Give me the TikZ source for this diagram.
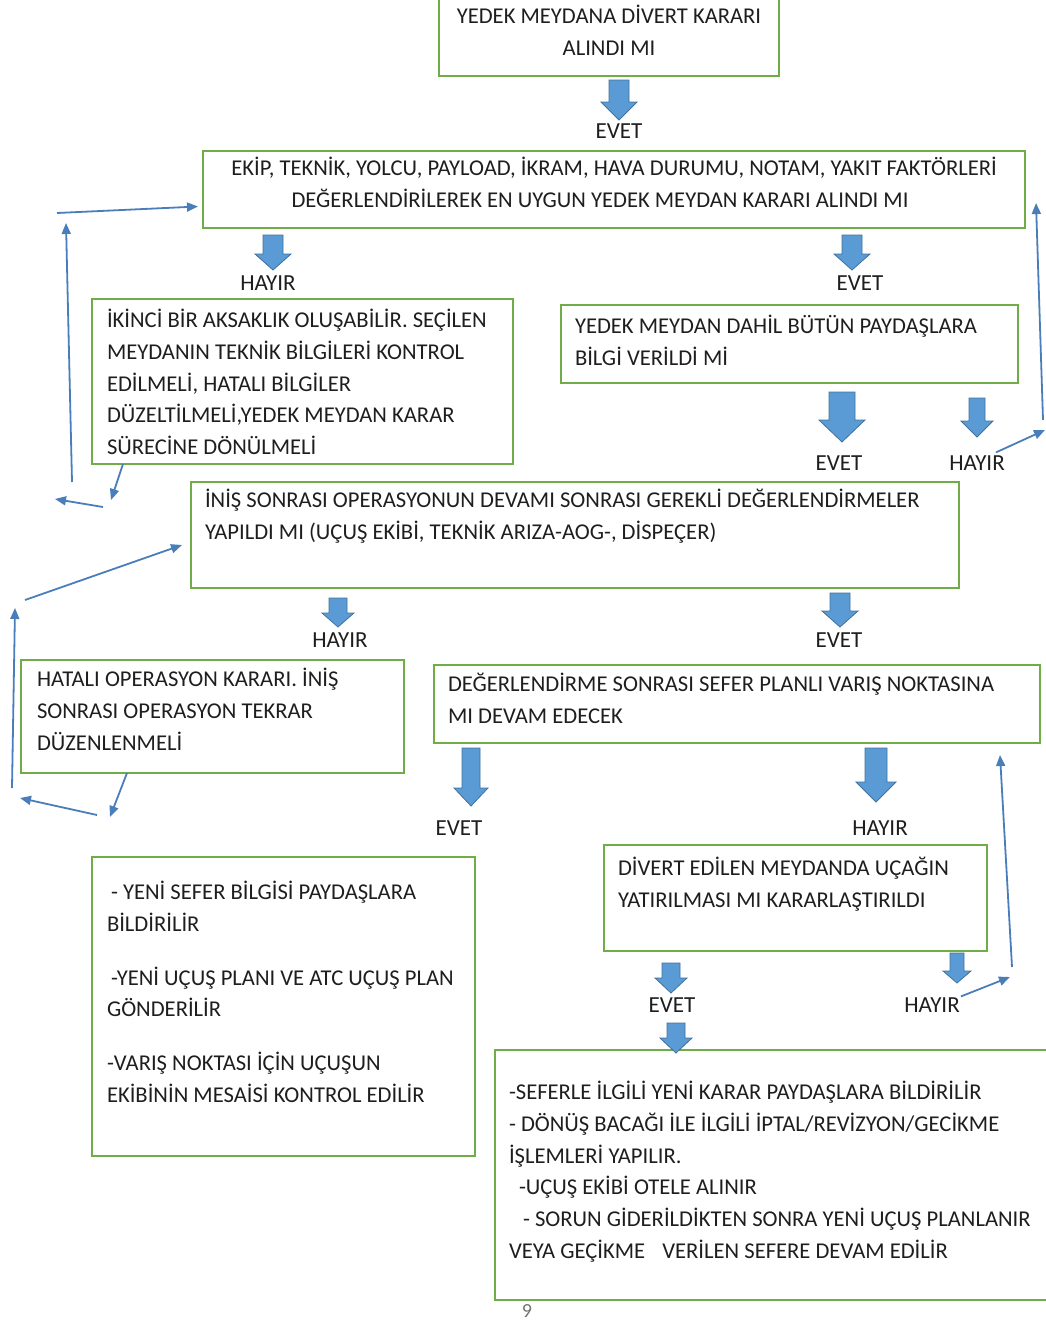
\documentclass[tikz,border=0pt]{standalone}
\usepackage{fontspec}
\setmainfont{Carlito}
\usetikzlibrary{arrows.meta}
\definecolor{boxgreen}{HTML}{70AD47}
\definecolor{blkfill}{HTML}{5B9BD5}
\definecolor{blkedge}{HTML}{41719C}
\definecolor{loopblue}{HTML}{4A7EBB}
\definecolor{txtgray}{HTML}{1E1E1E}
\newcommand{\boxbody}[5][\raggedright]{\parbox[t][#3pt][t]{#2pt}{#1\vspace*{#4pt}\strut #5}}
\newcommand{\dnarrow}[7]{%
  \fill[blkfill,draw=blkedge,line width=0.8pt]
    (#2-#5/2,#3) -- (#2+#5/2,#3) -- (#2+#5/2,#4-#7) -- (#2+#6/2,#4-#7)
    -- (#2,#4) -- (#2-#6/2,#4-#7) -- (#2-#5/2,#4-#7) -- cycle;
  \coordinate (#1) at (#2,#4);
}
\tikzset{
  boxnode/.style = {draw=boxgreen,line width=2pt,anchor=north west,inner ysep=0pt,outer sep=0pt,
                    font=\fontsize{22.6}{31.7}\selectfont,text=txtgray},
  anslbl/.style  = {font=\fontsize{23}{25}\selectfont,text=txtgray,inner sep=1pt},
  backarr/.style = {-{Triangle[length=11pt,width=9pt]},loopblue,line width=1.8pt}
}

\begin{document}
\begin{tikzpicture}[x=1pt,y=-1pt]
  \useasboundingbox (0,0) rectangle (1045,1322);

  \node[boxnode,inner xsep=10pt] (b1) at (439,-4)
    {\boxbody[\centering]{320}{80}{5.6}{YEDEK MEYDANA DİVERT KARARI\\ ALINDI MI}};
  \node[boxnode,inner xsep=12pt] (b2) at (203,151)
    {\boxbody[\centering]{798}{77}{2.6}{EKİP, TEKNİK, YOLCU, PAYLOAD, İKRAM, HAVA DURUMU, NOTAM, YAKIT FAKTÖRLERİ\hspace*{12pt}\\
     DEĞERLENDİRİLEREK EN UYGUN YEDEK MEYDAN KARARI ALINDI MI\hspace*{28pt}}};
  \node[boxnode,inner xsep=15pt] (b3) at (92,299)
    {\boxbody{391}{165}{6.6}{İKİNCİ BİR AKSAKLIK OLUŞABİLİR. SEÇİLEN\\ MEYDANIN TEKNİK BİLGİLERİ KONTROL\\
     EDİLMELİ, HATALI BİLGİLER\\ DÜZELTİLMELİ,YEDEK MEYDAN KARAR\\ SÜRECİNE DÖNÜLMELİ}};
  \node[boxnode,inner xsep=14pt] (b4) at (561,305)
    {\boxbody{429}{78}{6.6}{YEDEK MEYDAN DAHİL BÜTÜN PAYDAŞLARA\\ BİLGİ VERİLDİ Mİ}};
  \node[boxnode,inner xsep=14pt] (b5) at (191,482)
    {\boxbody{740}{106}{3.6}{İNİŞ SONRASI OPERASYONUN DEVAMI SONRASI GEREKLİ DEĞERLENDİRMELER\\
     YAPILDI MI (UÇUŞ EKİBİ, TEKNİK ARIZA-AOG-, DİSPEÇER)}};
  \node[boxnode,inner xsep=16pt] (b6) at (21,660)
    {\boxbody{351}{113}{4.6}{HATALI OPERASYON KARARI. İNİŞ\\ SONRASI OPERASYON TEKRAR\\ DÜZENLENMELİ}};
  \node[boxnode,inner xsep=14pt] (b7) at (434,665)
    {\boxbody{578}{78}{4.6}{DEĞERLENDİRME SONRASI SEFER PLANLI VARIŞ NOKTASINA\\ MI DEVAM EDECEK}};
  \node[boxnode,inner xsep=14pt] (b8) at (604,845)
    {\boxbody{355}{106}{8.6}{DİVERT EDİLEN MEYDANDA UÇAĞIN\\ YATIRILMASI MI KARARLAŞTIRILDI}};
  \node[boxnode,inner xsep=15pt] (b9) at (92,857)
    {\boxbody{353}{299}{20.6}{\hspace*{4pt}- YENİ SEFER BİLGİSİ PAYDAŞLARA\\ BİLDİRİLİR\\[22pt]
     \hspace*{4pt}-YENİ UÇUŞ PLANI VE ATC UÇUŞ PLAN\\ GÖNDERİLİR\\[22pt]
     -VARIŞ NOKTASI İÇİN UÇUŞUN\\ EKİBİNİN MESAİSİ KONTROL EDİLİR}};
  \node[boxnode,inner xsep=14pt] (b10) at (495,1050)
    {\boxbody{560}{250}{27.6}{-SEFERLE İLGİLİ YENİ KARAR PAYDAŞLARA BİLDİRİLİR\\
     - DÖNÜŞ BACAĞI İLE İLGİLİ İPTAL/REVİZYON/GECİKME\\ İŞLEMLERİ YAPILIR.\\
     \hspace*{10pt}-UÇUŞ EKİBİ OTELE ALINIR\\
     \hspace*{14pt}- SORUN GİDERİLDİKTEN SONRA YENİ UÇUŞ PLANLANIR\\
     VEYA GEÇİKME\hspace{12pt} VERİLEN SEFERE DEVAM EDİLİR}};

  \dnarrow{a1}{619}{80}{120}{20}{36}{18}
  \dnarrow{a2}{273}{235}{270}{20}{36}{16}
  \dnarrow{a3}{852}{235}{270}{20}{36}{16}
  \dnarrow{a4}{842}{392}{442}{26}{46}{22}
  \dnarrow{a5}{977}{398}{437}{16}{32}{16}
  \dnarrow{a6}{338}{598}{627}{18}{32}{14}
  \dnarrow{a7}{840}{593}{627}{20}{36}{16}
  \dnarrow{a8}{471}{748}{806}{18}{34}{18}
  \dnarrow{a9}{876}{748}{802}{22}{40}{20}
  \dnarrow{a10}{671}{963}{993}{18}{32}{15}
  \dnarrow{a11}{957}{953}{983}{14}{28}{12}
  \dnarrow{a12}{676}{1023}{1053}{18}{32}{15}

  \node[anslbl] (lab1)  at (619,131)  {EVET};
  \node[anslbl] (lab2)  at (268,283)  {HAYIR};
  \node[anslbl] (lab3)  at (860,283)  {EVET};
  \node[anslbl] (lab4)  at (839,463)  {EVET};
  \node[anslbl] (lab5)  at (977,463)  {HAYIR};
  \node[anslbl] (lab6)  at (340,640)  {HAYIR};
  \node[anslbl] (lab7)  at (839,640)  {EVET};
  \node[anslbl] (lab8)  at (459,828)  {EVET};
  \node[anslbl] (lab9)  at (880,828)  {HAYIR};
  \node[anslbl] (lab10) at (672,1005) {EVET};
  \node[anslbl] (lab11) at (932,1005) {HAYIR};

  \coordinate (l1a) at (111,500);
  \coordinate (l1b) at (103,507);
  \coordinate (l1c) at (55,499);
  \coordinate (l1d) at (72,482);
  \coordinate (l1e) at (66,223);
  \coordinate (l1f) at (57,213);
  \coordinate (r1a) at (1045,430);
  \coordinate (r1b) at (1043,420);
  \coordinate (r1c) at (1036,203);
  \coordinate (l2a) at (110,817);
  \coordinate (l2b) at (97,815);
  \coordinate (l2c) at (20,798);
  \coordinate (l2d) at (12,788);
  \coordinate (l2e) at (15,608);
  \coordinate (l2f) at (25,600);
  \coordinate (r2a) at (1010,977);
  \coordinate (r2b) at (1012,967);
  \coordinate (r2c) at (1000,755);

  \draw[backarr] ([xshift=31pt]b3.south west) -- (l1a);
  \draw[backarr] (l1b) -- (l1c);
  \draw[backarr] (l1d) -- (l1e);
  \draw[backarr] (l1f) -- ([xshift=-5pt,yshift=-17pt]b2.west);
  \draw[backarr] ([xshift=-10pt,yshift=2pt]lab5.north east) -- (r1a);
  \draw[backarr] (r1b) -- (r1c);
  \draw[backarr] ([xshift=106pt]b6.south west) -- (l2a);
  \draw[backarr] (l2b) -- (l2c);
  \draw[backarr] (l2d) -- (l2e);
  \draw[backarr] (l2f) -- ([xshift=-9pt,yshift=-10pt]b5.west);
  \draw[backarr] ([xshift=0pt]lab11.north east) -- (r2a);
  \draw[backarr] (r2b) -- (r2c);

  \node[font=\fontsize{20}{20}\selectfont,text=black!55] (pnum) at (527,1311) {9};
\end{tikzpicture}
\end{document}
